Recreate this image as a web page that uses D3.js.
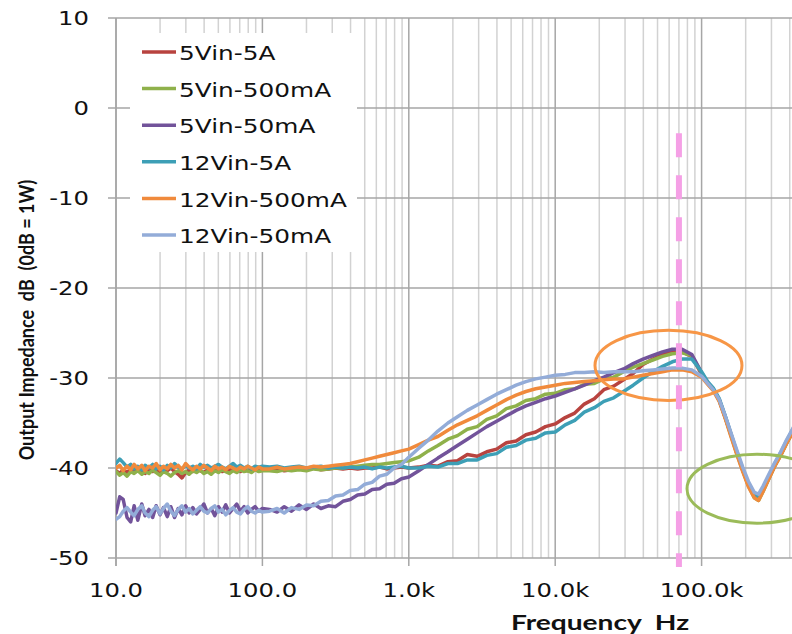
<html lang="en">
<head>
  <meta charset="UTF-8"/>
  <title>Output impedance vs frequency</title>
  <script src="https://d3js.org/d3.v7.min.js"></script>
  <style>
    body { margin: 0; background: #ffffff; }
    svg { display: block; }
    .tick-label { font-family: 'DejaVu Sans', Verdana, sans-serif; font-size: 19px; fill: #111; }
    .legend-label { font-family: 'DejaVu Sans', Verdana, sans-serif; font-size: 20px; fill: #111; }
    .axis-title { font-family: Lato, 'Open Sans', sans-serif; font-weight: bold; font-size: 21px; fill: #111; white-space: pre; }
  </style>
</head>
<body>
<svg width="792" height="634"></svg>
<script>
  // frequency points (Hz) shared by all series
  const freqs = [
    10, 10.6, 11.2, 11.9, 12.6, 13.3, 14.1, 15, 15.8, 16.8, 17.8, 18.8, 20, 21.1, 22.4, 23.7, 25.1, 26.6, 28.2, 29.9,
    31.6, 33.5, 35.5, 37.6, 39.8, 42.2, 44.7, 47.3, 50.1, 53.1, 56.2, 59.6, 63.1, 66.8, 70.8, 75, 79.4, 84.1, 89.1, 94.4, 100,
    112, 126, 141, 158, 178, 200, 224, 251, 282, 316, 355, 398, 447, 501, 562, 631, 708, 794, 891, 1000,
    1170, 1360, 1580, 1850, 2150, 2510, 2930, 3410, 3980, 4640, 5410, 6310, 7360, 8580, 10000,
    11700, 13600, 15800, 18500, 21500, 25100, 29300, 34100, 39800, 46400, 54100, 63100, 73600, 85800, 100000,
    110000, 120000, 132000, 145000, 158000, 174000, 191000, 209000, 229000, 245000, 263000, 288000, 316000, 347000, 380000, 417000, 450000
  ];

  const seriesNames = ['5Vin-5A', '5Vin-500mA', '5Vin-50mA', '12Vin-5A', '12Vin-500mA', '12Vin-50mA'];
  const seriesColors = ['#b8433f', '#8fb14b', '#72539a', '#3d9fb6', '#f08a3c', '#93acd8'];

  const db5V5A = [
    -40.3, -40.6, -40.2, -40.5, -40.1, -40.4, -40.0, -40.3, -40.6, -40.2, -40.4, -40.1, -40.5, -40.2, -40.3, -40.0, -40.4, -40.7, -41.1, -40.5,
    -40.2, -40.4, -40.1, -40.3, -40.5, -40.2, -40.0, -40.3, -40.1, -40.4, -40.2, -40.3, -40.0, -40.2, -40.4, -40.1, -40.3, -40.2, -40.0, -40.3, -40.2,
    -40.2, -40.1, -40.3, -40.2, -40.1, -40.2, -40.0, -40.2, -40.1, -40.0, -40.1, -40.0, -40.1, -40.0, -40.0, -39.9, -40.1, -40.0, -39.9, -40.0,
    -39.9, -39.7, -39.8, -39.3, -39.2, -38.5, -38.7, -38.2, -37.9, -37.2, -37.0, -36.3, -36.0, -35.4, -35.1,
    -34.4, -33.9, -32.9, -32.3, -31.3, -30.9, -30.2, -29.5, -28.5, -27.9, -27.4, -27.1, -27.1, -27.6, -29.6,
    -30.6, -31.3, -32.5, -34.4, -36.2, -38.3, -40.2, -41.9, -43.1, -43.4, -42.4, -41.1, -39.7, -38.5, -37.2, -36.0, -35.0
  ];
  const db5V500mA = [
    -40.4, -40.8, -40.5, -40.9, -40.4, -40.6, -40.3, -40.7, -40.4, -40.6, -40.2, -40.5, -40.8, -40.4, -40.6, -40.9, -40.5, -40.3, -40.6, -40.4,
    -40.7, -40.3, -40.5, -40.2, -40.6, -40.4, -40.7, -40.3, -40.5, -40.2, -40.4, -40.6, -40.3, -40.5, -40.2, -40.4, -40.3, -40.5, -40.2, -40.4, -40.3,
    -40.3, -40.4, -40.2, -40.3, -40.2, -40.3, -40.1, -40.2, -40.1, -40.0, -40.0, -39.9, -39.8, -39.7, -39.6, -39.6, -39.5, -39.4, -39.3, -39.2,
    -38.8, -38.1, -37.5, -36.8, -36.4, -35.7, -35.4, -34.6, -34.2, -33.4, -33.1, -32.5, -32.3, -31.8, -31.7,
    -31.3, -31.2, -30.7, -30.6, -30.1, -29.9, -29.3, -28.8, -28.4, -28.0, -27.6, -27.3, -27.2, -27.5, -29.5,
    -30.6, -31.3, -32.5, -34.4, -36.3, -38.4, -40.3, -42.0, -43.3, -43.6, -42.6, -41.2, -39.8, -38.6, -37.3, -36.1, -35.1
  ];
  const db5V50mA = [
    -45.0, -43.2, -43.5, -45.5, -46.0, -44.2, -45.8, -44.0, -45.3, -44.6, -45.5, -44.2, -45.2, -44.4, -45.4, -44.3, -45.5, -44.5, -45.2, -44.2,
    -45.0, -44.4, -45.1, -44.6, -44.0, -45.0, -44.5, -45.3, -44.3, -44.9, -44.1, -45.0, -44.5, -44.0, -44.8, -44.3, -45.0, -44.6, -44.3, -44.8, -44.5,
    -44.6, -44.9, -44.3, -44.8, -44.1, -44.6, -44.0, -44.5, -44.2, -44.3, -43.7, -43.5, -43.0, -42.9, -42.4, -42.3, -41.8, -41.7, -41.2, -41.0,
    -40.3, -39.6, -38.9, -38.2, -37.5, -36.8, -36.1, -35.4, -34.8, -34.2, -33.6, -33.1, -32.7, -32.3, -32.0,
    -31.6, -31.2, -30.8, -30.3, -29.9, -29.4, -29.0, -28.4, -27.9, -27.5, -27.1, -26.8, -26.8, -27.4, -29.4,
    -30.5, -31.2, -32.4, -34.3, -36.2, -38.3, -40.2, -41.9, -43.2, -43.4, -42.4, -41.1, -39.7, -38.5, -37.2, -36.0, -35.0
  ];
  const db12V5A = [
    -39.5, -39.0, -39.4, -39.9, -39.6, -40.1, -39.8, -40.2, -39.7, -40.0, -39.6, -40.1, -39.8, -40.2, -39.7, -40.0, -39.5, -39.9, -40.1, -39.7,
    -40.0, -39.8, -40.1, -39.6, -39.9, -39.7, -40.0, -39.8, -39.6, -39.9, -40.1, -39.8, -39.5, -39.9, -39.7, -40.0, -39.8, -40.1, -39.8, -39.9, -39.8,
    -39.9, -39.8, -40.0, -39.9, -39.8, -40.0, -39.9, -39.8, -40.0, -39.9, -40.0, -39.9, -40.0, -39.9, -40.1, -39.9, -40.0, -39.9, -39.8, -40.0,
    -40.0, -39.8, -39.9, -39.5, -39.5, -39.1, -39.1, -38.6, -38.4, -37.7, -37.5, -36.9, -36.7, -36.1, -36.0,
    -35.2, -34.7, -33.8, -33.3, -32.6, -32.2, -31.5, -30.8, -30.0, -29.3, -28.7, -28.2, -27.9, -27.9, -29.3,
    -30.4, -31.1, -32.3, -34.2, -36.1, -38.2, -40.1, -41.8, -43.0, -43.2, -42.2, -40.9, -39.5, -38.3, -37.0, -35.8, -34.8
  ];
  const db12V500mA = [
    -40.0, -39.7, -40.3, -39.8, -40.2, -39.6, -40.1, -39.7, -40.3, -39.8, -40.0, -39.5, -40.2, -39.8, -40.1, -39.6, -40.0, -39.7, -40.2, -39.5,
    -39.9, -40.2, -39.8, -40.1, -39.7, -40.0, -40.3, -39.8, -40.1, -39.9, -40.2, -39.8, -40.0, -40.2, -39.9, -40.1, -39.8, -40.0, -40.2, -39.9, -40.1,
    -40.1, -39.9, -40.1, -40.0, -39.9, -40.0, -39.8, -39.9, -39.8, -39.7, -39.6, -39.5, -39.3, -39.1, -38.9, -38.7, -38.5, -38.3, -38.1, -37.9,
    -37.4, -36.9, -36.5, -35.8, -35.2, -34.7, -34.2, -33.6, -33.0, -32.4, -31.9, -31.5, -31.2, -31.0, -30.8,
    -30.6, -30.5, -30.4, -30.3, -30.2, -30.1, -30.1, -29.9, -29.7, -29.5, -29.3, -29.1, -29.1, -29.3, -29.9,
    -30.7, -31.4, -32.6, -34.5, -36.4, -38.5, -40.4, -42.1, -43.3, -43.6, -42.6, -41.2, -39.8, -38.6, -37.3, -36.1, -35.1
  ];
  const db12V50mA = [
    -45.7, -45.4, -44.8, -44.4, -44.9, -45.3, -44.6, -44.2, -45.0, -45.4, -44.7, -44.3, -45.1, -44.5, -44.0, -44.8, -45.3, -44.6, -44.2, -44.9,
    -44.5, -45.1, -44.7, -44.3, -44.8, -45.0, -44.5, -44.2, -44.9, -44.6, -45.2, -44.7, -44.4, -44.9, -45.1, -44.6, -44.3, -44.8, -45.0, -44.7, -44.9,
    -44.8, -44.5, -45.0, -44.4, -44.6, -44.1, -44.2, -43.7, -43.6, -43.1, -43.0, -42.5, -42.4, -41.8, -41.6, -40.9, -40.7, -40.0, -39.6, -38.8,
    -37.8, -36.9, -35.9, -35.0, -34.3, -33.6, -33.0, -32.4, -31.8, -31.3, -30.8, -30.4, -30.1, -29.9, -29.7,
    -29.6, -29.4, -29.4, -29.3, -29.4, -29.3, -29.3, -29.3, -29.2, -29.1, -29.0, -28.9, -28.9, -29.1, -29.8,
    -30.6, -31.3, -32.4, -34.2, -36.0, -38.0, -39.9, -41.5, -42.7, -42.9, -42.0, -40.7, -39.4, -38.2, -36.9, -35.7, -34.7
  ];
  const seriesValues = [db5V5A, db5V500mA, db5V50mA, db12V5A, db12V500mA, db12V50mA];

  // axis ticks
  const xTicks = [10, 100, 1000, 10000, 100000];
  const xTickLabels = ['10.0', '100.0', '1.0k', '10.0k', '100.0k'];
  const yTicks = [10, 0, -10, -20, -30, -40, -50];
  const yTickLabels = ['10', '0', '-10', '-20', '-30', '-40', '-50'];

  // annotations: marker frequency and highlighted regions (centre freq, centre dB, half-width decades, half-height dB)
  const markerFreq = 70000;
  const markerTop = -2.8;
  const ellipses = [
    { f: 59400, db: -28.6, dec: 0.502, ddb: 3.9, color: '#f79646' },
    { f: 239000, db: -42.3, dec: 0.478, ddb: 3.83, color: '#9bbb59' }
  ];

  const svg = d3.select('svg');
  const W = 792;
  const plotLeft = 116, plotTop = 18, plotBottom = 558;
  const decade = 146.4;
  const stretch = 1.28; // the original picture is stretched horizontally

  const xScale = d3.scaleLog().domain([10, 1e6]).range([plotLeft, plotLeft + 5 * decade]);
  const yScale = d3.scaleLinear().domain([-50, 10]).range([plotBottom, plotTop]);

  svg.append('defs').append('clipPath').attr('id', 'plot')
    .append('rect').attr('x', plotLeft).attr('y', plotTop - 2).attr('width', W - plotLeft).attr('height', plotBottom - plotTop + 4);

  // vertical grid lines
  const minor = xScale.ticks().filter(t => xScale(t) < W && !xTicks.includes(t));
  svg.append('g').selectAll('line').data(minor).enter().append('line')
    .attr('x1', d => xScale(d)).attr('x2', d => xScale(d))
    .attr('y1', plotTop).attr('y2', plotBottom)
    .attr('stroke', '#d2d2d2').attr('stroke-width', 1.5);
  svg.append('g').selectAll('line').data(xTicks).enter().append('line')
    .attr('x1', d => xScale(d)).attr('x2', d => xScale(d))
    .attr('y1', plotTop).attr('y2', plotBottom + 8)
    .attr('stroke', '#a6a6a6').attr('stroke-width', 1.5);

  // horizontal grid lines
  svg.append('g').selectAll('line').data(yTicks).enter().append('line')
    .attr('x1', plotLeft - 8).attr('x2', W)
    .attr('y1', d => yScale(d)).attr('y2', d => yScale(d))
    .attr('stroke', '#a6a6a6').attr('stroke-width', 1.5);

  // left axis line
  svg.append('line')
    .attr('x1', plotLeft).attr('x2', plotLeft).attr('y1', plotTop).attr('y2', plotBottom + 8)
    .attr('stroke', '#a6a6a6').attr('stroke-width', 1.5);

  // legend box hides the grid behind it
  svg.append('rect')
    .attr('x', 130).attr('y', 33).attr('width', 227).attr('height', 219)
    .attr('fill', '#ffffff');

  // series
  const line = d3.line()
    .x((d, i) => xScale(freqs[i]))
    .y(d => yScale(d));

  const plot = svg.append('g').attr('clip-path', 'url(#plot)');
  plot.selectAll('path.series').data(seriesValues).enter().append('path')
    .attr('class', 'series')
    .attr('d', d => line(d))
    .attr('fill', 'none')
    .attr('stroke', (d, i) => seriesColors[i])
    .attr('stroke-width', 3.5)
    .attr('stroke-linejoin', 'round')
    .attr('stroke-linecap', 'round');

  // pink dashed marker
  svg.append('line')
    .attr('x1', xScale(markerFreq)).attr('x2', xScale(markerFreq))
    .attr('y1', yScale(markerTop)).attr('y2', plotBottom + 9)
    .attr('stroke', '#f5a0e6').attr('stroke-width', 6)
    .attr('stroke-dasharray', '24,18');

  // ellipses
  plot.selectAll('ellipse').data(ellipses).enter().append('ellipse')
    .attr('cx', d => xScale(d.f))
    .attr('cy', d => yScale(d.db))
    .attr('rx', d => xScale(d.f * Math.pow(10, d.dec)) - xScale(d.f))
    .attr('ry', d => yScale(d.db - d.ddb) - yScale(d.db))
    .attr('fill', 'none')
    .attr('stroke', d => d.color)
    .attr('stroke-width', 3);

  // tick labels
  svg.append('g').selectAll('text').data(yTicks).enter().append('text')
    .attr('class', 'tick-label')
    .attr('text-anchor', 'end')
    .attr('dominant-baseline', 'central')
    .attr('transform', d => `translate(89, ${yScale(d)}) scale(${stretch}, 1)`)
    .text((d, i) => yTickLabels[i]);

  svg.append('g').selectAll('text').data(xTicks).enter().append('text')
    .attr('class', 'tick-label')
    .attr('text-anchor', 'middle')
    .attr('transform', d => `translate(${xScale(d)}, 597) scale(${stretch}, 1)`)
    .text((d, i) => xTickLabels[i]);

  // legend
  const legend = svg.append('g').selectAll('g').data(seriesNames).enter().append('g')
    .attr('transform', (d, i) => `translate(142, ${52 + i * 36.6})`);
  legend.append('line')
    .attr('x1', 0).attr('x2', 34).attr('y1', 0).attr('y2', 0)
    .attr('stroke', (d, i) => seriesColors[i]).attr('stroke-width', 3.5);
  legend.append('text')
    .attr('class', 'legend-label')
    .attr('dominant-baseline', 'central')
    .attr('transform', `translate(37, 1) scale(${stretch - 0.04}, 1)`)
    .text(d => d);

  // axis titles
  svg.append('text')
    .attr('class', 'axis-title')
    .attr('text-anchor', 'middle')
    .attr('transform', `translate(600, 630) scale(1.34, 1)`)
    .text('Frequency  Hz');

  svg.append('text')
    .attr('class', 'axis-title')
    .attr('text-anchor', 'middle')
    .style('font-size', '18px')
    .attr('transform', `translate(34, 320) scale(1.2, 1) rotate(-90)`)
    .text('Output Impedance  dB  (0dB = 1W)');
</script>
</body>
</html>
